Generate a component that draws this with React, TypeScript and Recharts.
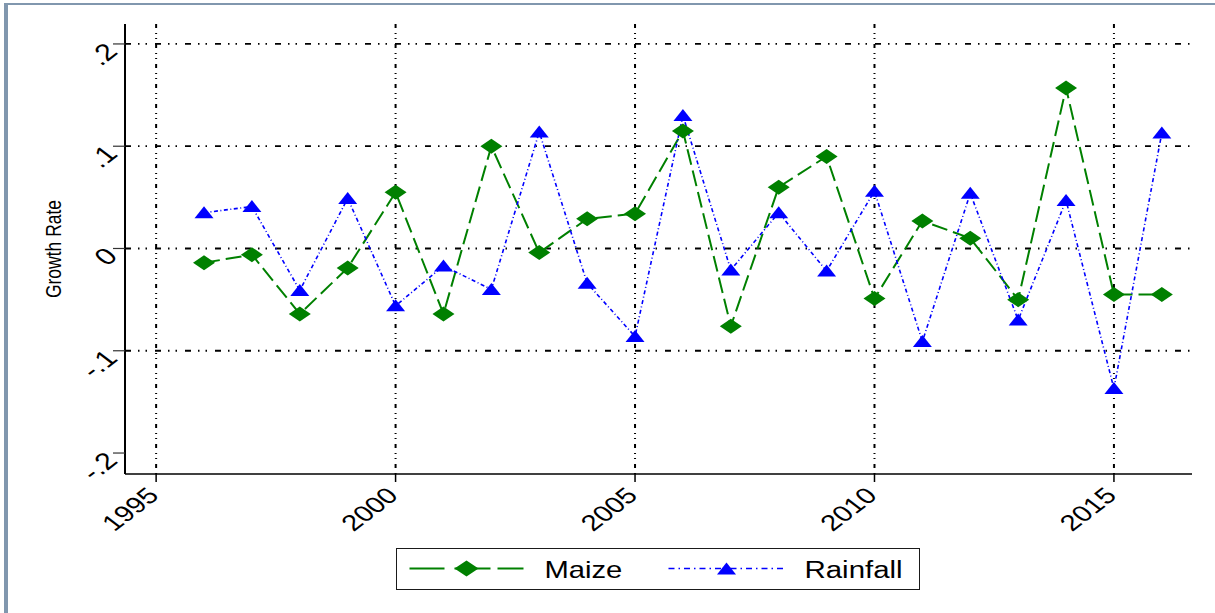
import { LineChart, Line, XAxis, YAxis, CartesianGrid } from "recharts";

const years = [
  1996, 1997, 1998, 1999, 2000, 2001, 2002, 2003, 2004, 2005, 2006,
  2007, 2008, 2009, 2010, 2011, 2012, 2013, 2014, 2015, 2016,
];
const maize = [
  -0.014, -0.006, -0.064, -0.019, 0.055, -0.064, 0.1, -0.004, 0.029, 0.034, 0.115,
  -0.076, 0.06, 0.09, -0.049, 0.027, 0.01, -0.05, 0.157, -0.045, -0.045,
];
const rainfall = [
  0.035, 0.041, -0.041, 0.049, -0.056, -0.017, -0.04, 0.114, -0.034, -0.086, 0.13,
  -0.021, 0.035, -0.022, 0.056, -0.091, 0.054, -0.07, 0.047, -0.137, 0.113,
];
const xTicks = [1995, 2000, 2005, 2010, 2015];
const yTicks = [-0.2, -0.1, 0, 0.1, 0.2];
const yGrid = [-0.1, 0, 0.1, 0.2];

const data = years.map((y, i) => ({ year: y, maize: maize[i], rainfall: rainfall[i] }));

const FONT = "'Liberation Sans', Arial, sans-serif";
const STRETCH = 1.3;
const GREEN = "#008000";
const BLUE = "#0000ff";

function fmtY(v: number) {
  if (v === 0) return "0";
  const s = v.toFixed(1);
  return s.replace("0.", ".");
}

function XTick({ x, y, payload }: any) {
  return (
    <text
      transform={`translate(${x + 4},${y + 13}) scale(${STRETCH},1) rotate(-45)`}
      textAnchor="end"
      fontFamily={FONT}
      fontSize={22.5}
      fill="#000"
    >
      {payload.value}
    </text>
  );
}

function YTick({ x, y, payload }: any) {
  return (
    <text
      transform={`translate(${x + 8},${y + 9}) scale(${STRETCH},1) rotate(-45)`}
      textAnchor="end"
      fontFamily={FONT}
      fontSize={23.5}
      fill="#000"
    >
      {fmtY(payload.value)}
    </text>
  );
}

function yTitle(props: any) {
  const vb = props.viewBox || { x: 0, y: 24, width: 125, height: 450 };
  const cy = vb.y + vb.height / 2;
  return (
    <text
      transform={`translate(53,${cy}) scale(${STRETCH},1) rotate(-90)`}
      textAnchor="middle"
      dominantBaseline="central"
      fontFamily={FONT}
      fontSize={17.5}
      fill="#000"
    >
      Growth Rate
    </text>
  );
}

function diamond(props: any) {
  const { cx, cy, index } = props;
  return (
    <path
      key={`d-${index}`}
      d={`M${cx - 11},${cy} L${cx},${cy - 7.5} L${cx + 11},${cy} L${cx},${cy + 7.5} Z`}
      fill={GREEN}
      stroke="none"
    />
  );
}

function triangle(props: any) {
  const { cx, cy, index } = props;
  return (
    <path
      key={`t-${index}`}
      d={`M${cx},${cy - 6.5} L${cx + 9.5},${cy + 5.5} L${cx - 9.5},${cy + 5.5} Z`}
      fill={BLUE}
      stroke="none"
    />
  );
}

function LegendBox() {
  return (
    <div
      style={{
        position: "absolute",
        left: 396,
        top: 548,
        width: 522,
        height: 40,
        border: "1.5px solid #1a1a1a",
        background: "#fff",
      }}
    >
      <svg width={522} height={40} style={{ display: "block" }}>
        <g transform="translate(-397.5,-549.5)">
          <line x1={410} y1={569} x2={445} y2={569} stroke={GREEN} strokeWidth={2} />
          <line x1={455} y1={569} x2={491} y2={569} stroke={GREEN} strokeWidth={2} />
          <line x1={498} y1={569} x2={524} y2={569} stroke={GREEN} strokeWidth={2} />
          <path d="M455,569 L467,561 L479,569 L467,577 Z" fill={GREEN} />
          <text
            transform={`translate(545,578) scale(1.27,1)`}
            fontFamily={FONT}
            fontSize={23}
            fill="#000"
          >
            Maize
          </text>
          <line
            x1={669}
            y1={569}
            x2={785}
            y2={569}
            stroke={BLUE}
            strokeWidth={1.6}
            strokeDasharray="6 4 1.5 4"
          />
          <path d="M727,563 L736.5,575 L717.5,575 Z" fill={BLUE} />
          <text
            transform={`translate(805,578) scale(1.28,1)`}
            fontFamily={FONT}
            fontSize={23}
            fill="#000"
          >
            Rainfall
          </text>
        </g>
      </svg>
    </div>
  );
}

export default function App() {
  return (
    <div
      style={{
        position: "absolute",
        left: 0,
        top: 0,
        width: 1215,
        height: 613,
        background: "#fff",
        overflow: "hidden",
      }}
    >
      <div
        style={{
          position: "absolute",
          left: 4,
          top: 3,
          width: 1215,
          height: 613,
          borderLeft: "4px solid #8197ae",
          borderTop: "2px solid #8197ae",
        }}
      />
      <div style={{ position: "absolute", left: 0, top: 0 }}>
        <LineChart
          width={1215}
          height={613}
          data={data}
          margin={{ top: 24, right: 23, bottom: 0, left: 0 }}
        >
          <CartesianGrid
            vertical={false}
            horizontalValues={yGrid}
            stroke="#000"
            strokeWidth={1.8}
            strokeDasharray="6 7 1.5 6 1.5 8"
          />
          <CartesianGrid
            horizontal={false}
            verticalValues={xTicks}
            stroke="#000"
            strokeWidth={2}
            strokeDasharray="4 5 1 4 1 5"
          />
          <XAxis
            type="number"
            dataKey="year"
            domain={[1994.35, 2016.63]}
            ticks={xTicks}
            interval={0}
            allowDataOverflow
            height={139}
            tickSize={8}
            axisLine={{ stroke: "#000", strokeWidth: 1.6 }}
            tickLine={{ stroke: "#000", strokeWidth: 1.5 }}
            tick={<XTick />}
          />
          <YAxis
            type="number"
            domain={[-0.2205, 0.2195]}
            ticks={yTicks}
            interval={0}
            allowDataOverflow
            width={125}
            tickSize={12}
            axisLine={{ stroke: "#000", strokeWidth: 2 }}
            tickLine={{ stroke: "#333", strokeWidth: 1.2 }}
            tick={<YTick />}
            label={yTitle}
          />
          <Line
            type="linear"
            dataKey="maize"
            stroke={GREEN}
            strokeWidth={2}
            strokeDasharray="16 6"
            dot={diamond}
            activeDot={false}
            isAnimationActive={false}
          />
          <Line
            type="linear"
            dataKey="rainfall"
            stroke={BLUE}
            strokeWidth={1.6}
            strokeDasharray="4 2.5 1 2.5"
            dot={triangle}
            activeDot={false}
            isAnimationActive={false}
          />
        </LineChart>
      </div>
      <LegendBox />
    </div>
  );
}
